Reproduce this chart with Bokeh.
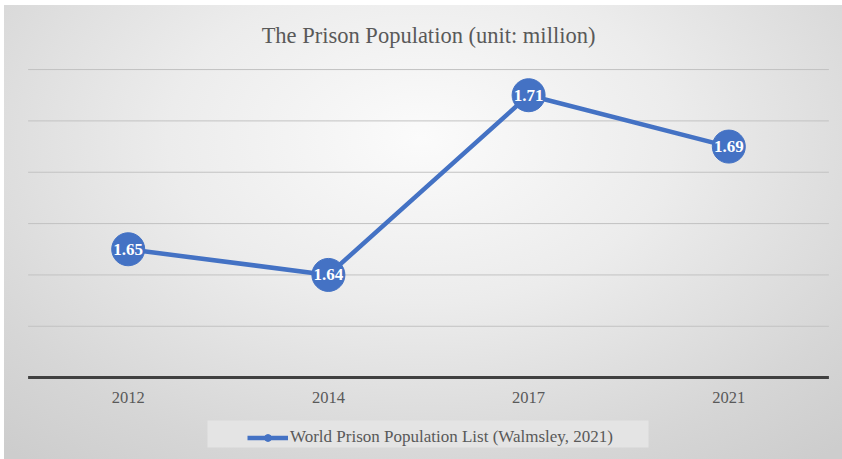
from bokeh.plotting import figure
from bokeh.models import (ColumnDataSource, FactorRange, Label, Legend, LegendItem,
                          BoxAnnotation)
from bokeh.core.properties import value
from bokeh.embed import file_html
from bokeh.resources import INLINE

years = ["2012", "2014", "2017", "2021"]
population = [1.65, 1.64, 1.71, 1.69]
labels = ["1.65", "1.64", "1.71", "1.69"]
grid_ticks = [1.60, 1.62, 1.64, 1.66, 1.68, 1.70, 1.72]
title_text = "The Prison Population (unit: million)"
series_name = "World Prison Population List (Walmsley, 2021)"

SERIF = "Liberation Serif"
BLUE = "#4472C4"
GREY_TEXT = "#595959"

# layout constants (data-space positions of the chart furniture)
Y_MIN, Y_MAX = 1.5681, 1.7469
TICK_LABEL_Y = 1.5922
TITLE_Y = 1.7331
n = len(years)

src = ColumnDataSource(dict(x=years, y=population, t=labels))
tick_src = ColumnDataSource(dict(x=years, y=[TICK_LABEL_Y] * n))
grid_src = ColumnDataSource(dict(x0=[0] * (len(grid_ticks) - 1),
                                 x1=[n] * (len(grid_ticks) - 1),
                                 y=grid_ticks[1:]))

css = (":host { background: radial-gradient(ellipse 75% 90% at 50% 30%, "
       "#fbfbfb 0%, #ececec 40%, #d6d6d6 80%, #cdcdcd 100%); "
       "box-shadow: inset 4px 5px 0 0 #ffffff; }")

p = figure(x_range=FactorRange(*years, range_padding=0.0679,
                               range_padding_units="absolute"),
           y_range=(Y_MIN, Y_MAX), width=842, height=459,
           output_backend="svg", toolbar_location=None,
           min_border_left=14, min_border_right=0, min_border_top=0,
           min_border_bottom=0, stylesheets=[css])
p.border_fill_color = None
p.background_fill_color = None
p.outline_line_color = None
p.xaxis.visible = False
p.yaxis.visible = False
p.xgrid.grid_line_color = None
p.ygrid.grid_line_color = None

# horizontal gridlines spanning the category band
p.segment(x0="x0", x1="x1", y0="y", y1="y", source=grid_src,
          line_color="#c2c2c2", line_width=1)
# category axis line
p.segment(x0=[0], x1=[n], y0=[grid_ticks[0]], y1=[grid_ticks[0]],
          line_color="#404040", line_width=3)
# category tick labels
p.text("x", "y", text="x", source=tick_src, text_color=GREY_TEXT,
       text_font=value(SERIF), text_font_size="16.5px",
       text_align="center", text_baseline="middle")

# legend background box
p.add_layout(BoxAnnotation(left=0.896, right=3.099, top=1.58325, bottom=1.57273,
                           fill_color="#e4e4e4", fill_alpha=1.0,
                           line_color=None, level="underlay"))

ln = p.line("x", "y", source=src, line_color=BLUE, line_width=4.5)
sc = p.scatter("x", "y", source=src, size=33, fill_color=BLUE, line_color=BLUE)
p.text("x", "y", text="t", source=src, text_color="white",
       text_font=value(SERIF), text_font_style="bold", text_font_size="17px",
       text_align="center", text_baseline="middle")

p.add_layout(Label(x=2.0, y=TITLE_Y, text=title_text, text_font=SERIF,
                   text_font_size="22.5px", text_color=GREY_TEXT,
                   text_align="center", text_baseline="middle"))

legend = Legend(items=[LegendItem(label=series_name, renderers=[ln, sc])],
                location=(233, 12), padding=5, margin=0,
                border_line_color=None, background_fill_alpha=0,
                label_text_font=SERIF, label_text_font_size="17px",
                label_text_color=GREY_TEXT, glyph_width=41, glyph_height=17,
                label_standoff=2, label_height=17)
p.add_layout(legend, "center")

open("out.html", "w").write(file_html(p, INLINE))
